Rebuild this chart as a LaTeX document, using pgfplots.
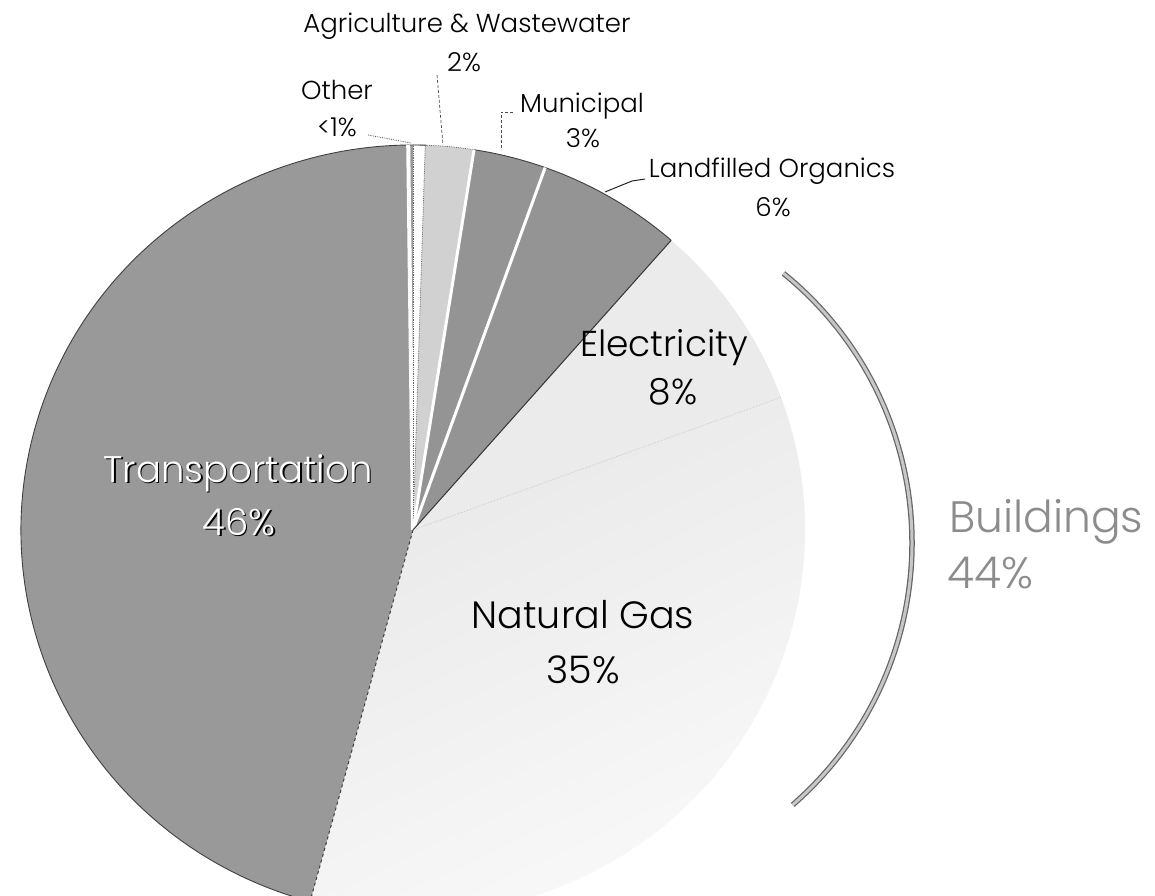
\documentclass[border=0pt]{standalone}
\usepackage{pgfplots}
\pgfplotsset{compat=1.18}
\usepackage{fontspec}
\setmainfont{Poppins Light}

% shares, clockwise from the top
\def\vOther{0.5}
\def\vAgri{2}
\def\vMuni{3}
\def\vLand{6}
\def\vElec{8}
\def\vGas{35}
\def\vTrans{46}

\pgfmathsetmacro\tot{\vOther+\vAgri+\vMuni+\vLand+\vElec+\vGas+\vTrans}
\pgfmathsetmacro\k{360/\tot}
\pgfmathsetmacro\aA{90}
\pgfmathsetmacro\aB{\aA-\k*\vOther}
\pgfmathsetmacro\aC{\aB-\k*\vAgri}
\pgfmathsetmacro\aD{\aC-\k*\vMuni}
\pgfmathsetmacro\aE{\aD-\k*\vLand}
\pgfmathsetmacro\aF{\aE-\k*\vElec}
\pgfmathsetmacro\aG{\aF-\k*\vGas}
\pgfmathsetmacro\aH{\aG-\k*\vTrans}

\def\rx{392pt}
\def\ry{385pt}
\newcommand\slicepath[2]{(axis cs:413,365) -- ++(#1:\rx\space and \ry) arc[start angle=#1, end angle=#2, x radius=\rx, y radius=\ry] -- cycle}
\newcommand\slice[3]{\fill[#3] \slicepath{#1}{#2};}
\newcommand\spoke[2]{\draw[#2] (axis cs:413,365) -- ++(#1:\rx\space and \ry);}

\begin{document}
\begin{tikzpicture}
\begin{axis}[
    x=1pt, y=1pt,
    xmin=0, xmax=1155, ymin=0, ymax=895,
    hide axis,
]
% slices
\slice{\aA}{\aB}{white}
\slice{\aB}{\aC}{black!18}
\slice{\aC}{\aD}{black!42}
\slice{\aD}{\aE}{black!42}
\slice{\aE}{\aF}{black!8}
\shade[top color=black!9, bottom color=black!2, shading angle=25] \slicepath{\aF}{\aG};
\slice{\aG}{\aH}{black!40}
% outlines
\draw[black!75, line width=0.9pt] (axis cs:413,365) ++(\aG:\rx\space and \ry) arc[start angle=\aG, end angle=-272, x radius=\rx, y radius=\ry];
\draw[black!75, line width=0.9pt] (axis cs:413,365) ++(\aC:\rx\space and \ry) arc[start angle=\aC, end angle=\aE, x radius=\rx, y radius=\ry];
\draw[black!60, line width=0.8pt, densely dotted] (axis cs:413,365) ++(\aA:\rx\space and \ry) arc[start angle=\aA, end angle=\aC, x radius=\rx, y radius=\ry];
\spoke{\aA+0.7}{white, line width=4pt}
\spoke{\aA}{black!60, densely dotted, line width=0.8pt}
\spoke{\aB}{black!60, densely dotted, line width=0.8pt}
\spoke{\aC}{white, line width=3pt}
\spoke{\aD}{white, line width=3pt}
\spoke{\aE}{black!80, line width=1pt}
\spoke{\aF}{black!25, densely dotted, line width=0.6pt}
\spoke{\aG}{black!75, dashed, line width=1pt}
% buildings bracket
\draw[black!60, line width=5.5pt] (axis cs:565,352) ++(51:347pt) arc[start angle=51, end angle=-49, radius=347pt];
\draw[black!22, line width=3pt] (axis cs:565,352) ++(51:347pt) arc[start angle=51, end angle=-49, radius=347pt];
% leader lines
\draw[black!70, densely dotted, line width=0.8pt] (axis cs:368,760) -- (axis cs:411,752);
\draw[black!70, densely dashed, line width=0.7pt] (axis cs:437,820) -- (axis cs:443,750);
\draw[black!70, densely dashed, line width=0.7pt] (axis cs:513,783) -- (axis cs:501,783) -- (axis cs:501,745);
\draw[black!85, line width=1pt] (axis cs:645,716) -- (axis cs:632,714) -- (axis cs:605,703);
% labels
\tikzset{lab/.style={anchor=base, inner sep=0pt}}
\node[lab, font=\fontsize{26}{30}\selectfont] at (axis cs:467,862) {Agriculture \& Wastewater};
\node[lab, font=\fontsize{26}{30}\selectfont] at (axis cs:464,823) {2\%};
\node[lab, font=\fontsize{26}{30}\selectfont] at (axis cs:337,795) {Other};
\node[lab, font=\fontsize{26}{30}\selectfont] at (axis cs:337,758) {{<}1\%};
\node[lab, font=\fontsize{26}{30}\selectfont] at (axis cs:582,782) {Municipal};
\node[lab, font=\fontsize{26}{30}\selectfont] at (axis cs:583,747) {3\%};
\node[lab, font=\fontsize{26}{30}\selectfont] at (axis cs:772,717) {Landfilled Organics};
\node[lab, font=\fontsize{26}{30}\selectfont] at (axis cs:773,678) {6\%};
\node[lab, font=\fontsize{36}{44}\selectfont] at (axis cs:664,538) {Electricity};
\node[lab, font=\fontsize{36}{44}\selectfont] at (axis cs:673,490) {8\%};
\node[lab, font=\fontsize{38}{44}\selectfont] at (axis cs:583,267) {Natural Gas};
\node[lab, font=\fontsize{38}{44}\selectfont] at (axis cs:583,212) {35\%};
\node[lab, font=\fontsize{37}{44}\selectfont, black] at (axis cs:239.5,411.6) {Transportation};
\node[lab, font=\fontsize{37}{44}\selectfont, white] at (axis cs:238,413) {Transportation};
\node[lab, font=\fontsize{37}{44}\selectfont, black] at (axis cs:240.5,358.6) {46\%};
\node[lab, font=\fontsize{37}{44}\selectfont, white] at (axis cs:239,360) {46\%};
\node[anchor=base west, inner sep=0pt, font=\fontsize{44}{50}\selectfont, black!45] at (axis cs:949,363) {Buildings};
\node[anchor=base west, inner sep=0pt, font=\fontsize{44}{50}\selectfont, black!45] at (axis cs:947,307) {44\%};
\end{axis}
\pgfresetboundingbox
\path (current axis.south west) rectangle (current axis.north east);
\end{tikzpicture}
\end{document}
